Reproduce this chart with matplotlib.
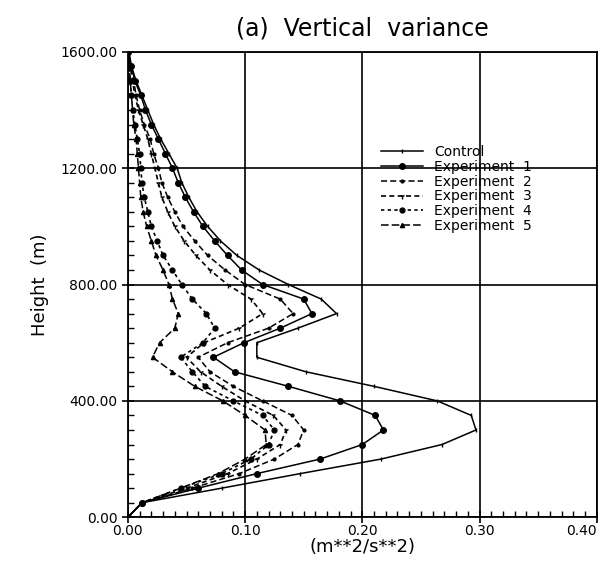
import matplotlib
matplotlib.use("Agg")
import matplotlib.pyplot as plt
import numpy as np

# heights every 50 m
height = list(range(0, 1650, 50))

control = [0.0, 0.012, 0.08, 0.147, 0.216, 0.268, 0.297, 0.293, 0.264, 0.21, 0.152, 0.11, 0.11,
           0.145, 0.178, 0.165, 0.137, 0.112, 0.093, 0.079, 0.068, 0.059, 0.052, 0.046, 0.042,
           0.035, 0.028, 0.022, 0.017, 0.012, 0.007, 0.003, 0.001]
exp1 = [0.0, 0.012, 0.06, 0.11, 0.164, 0.20, 0.218, 0.211, 0.181, 0.137, 0.091, 0.073, 0.099,
        0.13, 0.157, 0.15, 0.115, 0.097, 0.085, 0.074, 0.064, 0.056, 0.049, 0.043, 0.038,
        0.032, 0.026, 0.02, 0.015, 0.011, 0.006, 0.003, 0.0]
exp2 = [0.0, 0.012, 0.055, 0.095, 0.125, 0.145, 0.15, 0.14, 0.115, 0.09, 0.07, 0.06, 0.085,
        0.12, 0.141, 0.13, 0.10, 0.083, 0.068, 0.057, 0.047, 0.04, 0.034, 0.029, 0.026,
        0.022, 0.019, 0.014, 0.01, 0.007, 0.005, 0.002, 0.0]
exp3 = [0.0, 0.012, 0.05, 0.085, 0.11, 0.13, 0.135, 0.124, 0.10, 0.08, 0.062, 0.05, 0.065,
        0.095, 0.115, 0.105, 0.085, 0.07, 0.058, 0.048, 0.04, 0.034, 0.029, 0.026, 0.023,
        0.02, 0.017, 0.013, 0.009, 0.006, 0.004, 0.002, 0.0]
exp4 = [0.0, 0.012, 0.045, 0.08, 0.105, 0.12, 0.125, 0.115, 0.09, 0.066, 0.055, 0.045, 0.064,
        0.074, 0.067, 0.055, 0.046, 0.038, 0.03, 0.025, 0.02, 0.017, 0.014, 0.012, 0.011,
        0.01, 0.008, 0.006, 0.004, 0.003, 0.002, 0.001, 0.0]
exp5 = [0.0, 0.012, 0.045, 0.077, 0.10, 0.118, 0.117, 0.10, 0.081, 0.057, 0.038, 0.021, 0.027,
        0.04, 0.043, 0.038, 0.035, 0.03, 0.024, 0.02, 0.016, 0.013, 0.011, 0.01, 0.009,
        0.008, 0.007, 0.005, 0.004, 0.003, 0.002, 0.001, 0.0]

labels = ["Control", "Experiment  1", "Experiment  2", "Experiment  3", "Experiment  4", "Experiment  5"]
series = [control, exp1, exp2, exp3, exp4, exp5]
styles = [
    dict(ls="-", marker="|", ms=3, lw=1.1),
    dict(ls="-", marker="o", ms=4, lw=1.1),
    dict(ls=(0, (4, 2)), marker=".", ms=4, lw=1.1),
    dict(ls=(0, (3, 2)), marker="1", ms=4, lw=1.2),
    dict(ls=(0, (2, 2)), marker="o", ms=3.5, lw=1.2),
    dict(ls=(0, (5, 2)), marker="^", ms=3, lw=1.1),
]

fig = plt.figure(figsize=(6.12, 5.76), dpi=100)
ax = fig.add_axes([0.209, 0.102, 0.766, 0.808])

for s, lab, st in zip(series, labels, styles):
    ax.plot(s, height, color="black", label=lab, **st)

ax.set_xlim(0, 0.40)
ax.set_ylim(0, 1600)
ax.set_xticks(np.arange(0, 0.41, 0.1))
ax.set_yticks(np.arange(0, 1601, 400))
ax.set_xticks(np.arange(0, 0.401, 0.01), minor=True)
ax.set_yticks(np.arange(0, 1601, 50), minor=True)
ax.xaxis.set_major_formatter(matplotlib.ticker.FormatStrFormatter("%.2f"))
ax.yaxis.set_major_formatter(matplotlib.ticker.FormatStrFormatter("%.2f"))
ax.tick_params(which="major", direction="inout", length=8, width=1.2, labelsize=10)
ax.tick_params(which="minor", direction="in", length=4, width=1)
ax.tick_params(axis="x", pad=1)
ax.grid(True, which="major", color="black", lw=1.2)
for sp in ax.spines.values():
    sp.set_linewidth(1.3)
# keep the last x label inside the figure
ax.get_xticklabels()[-1].set_horizontalalignment("right")

ax.set_xlabel("(m**2/s**2)", fontsize=13, labelpad=0)
ax.set_ylabel("Height  (m)", fontsize=13, labelpad=8)
ax.set_title("(a)  Vertical  variance", fontsize=17, pad=12)

leg = ax.legend(loc="upper left", bbox_to_anchor=(0.52, 0.82), frameon=False,
                fontsize=10, handlelength=3, labelspacing=0.05, borderpad=0.2)

fig.savefig("out.png", dpi=100)
